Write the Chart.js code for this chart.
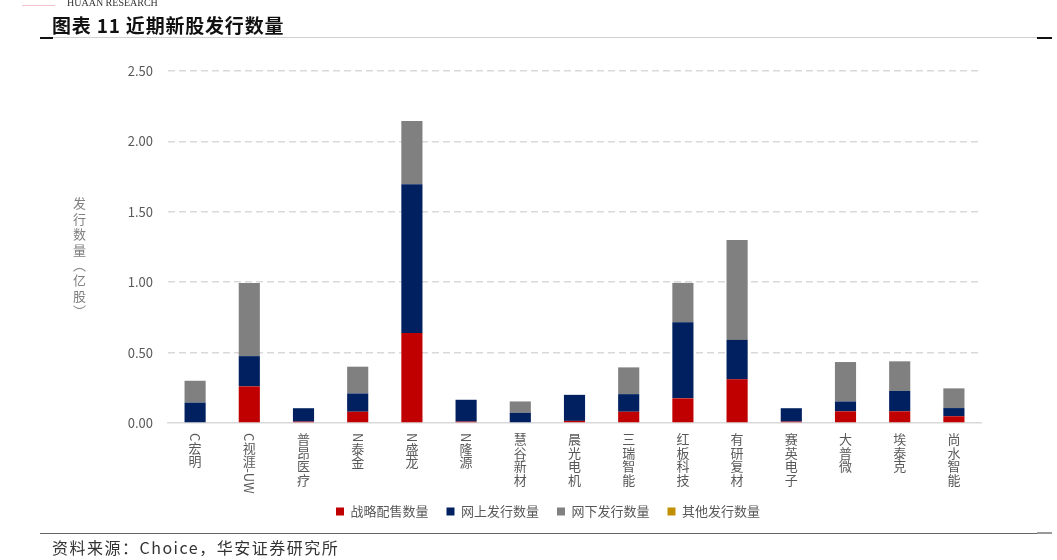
<!DOCTYPE html>
<html>
<head>
<meta charset="utf-8">
<script src="https://cdn.jsdelivr.net/npm/chart.js@4/dist/chart.umd.min.js"></script>
<style>
  body { margin: 0; background: #fff; }
  #page { position: relative; width: 1057px; height: 560px; overflow: hidden; font-family: "Noto Sans CJK SC", sans-serif; }
  #chartBox { position: absolute; left: 0; top: 0; width: 1057px; height: 560px; }
  .abs { position: absolute; white-space: nowrap; }
  #brand { left: 67px; top: -3px; font: 10px "Liberation Serif", serif; color: #333; }
  #pink { left: 22px; top: 5px; width: 33px; height: 1px; background: #f2c4cc; }
  #title { left: 52px; top: 12px; font-size: 19px; font-weight: 700; color: #111; letter-spacing: 0.8px; line-height: 26px; }
  #topLine { left: 40px; top: 37px; width: 997px; height: 1px; background: #d0d0d0; }
  #topMark { left: 1037px; top: 37px; width: 15px; height: 2px; background: #111; }
  #topMarkL { left: 40px; top: 37px; width: 13px; height: 2px; background: #111; }
  #botLine { left: 40px; top: 533px; width: 997px; height: 1px; background: #666; }
  #botMark { left: 1037px; top: 532px; width: 15px; height: 2px; background: #999; }
  #source { left: 52px; top: 535px; font-size: 16px; color: #333; letter-spacing: 1.5px; line-height: 24px; }
  #yTitle { left: 71px; top: 197px; writing-mode: vertical-rl; font-size: 13px; line-height: 16px; color: #7f7f7f; letter-spacing: 2.4px; }
</style>
</head>
<body>
<div id="page">
  <div id="chartBox"><canvas id="issueChart"></canvas></div>
  <div class="abs" id="pink"></div>
  <div class="abs" id="brand">HUAAN RESEARCH</div>
  <div class="abs" id="title">图表 11 近期新股发行数量</div>
  <div class="abs" id="topLine"></div>
  <div class="abs" id="topMarkL"></div>
  <div class="abs" id="topMark"></div>
  <div class="abs" id="yTitle">发行数量（亿股）</div>
  <div class="abs" id="botLine"></div>
  <div class="abs" id="botMark"></div>
  <div class="abs" id="source">资料来源：Choice，华安证券研究所</div>
</div>
<script>
// categories and values (亿股)
const categories = ['C宏明', 'C视涯-UW', '普昂医疗', 'N泰金', 'N盛龙', 'N隆源', '慧谷新材', '晨光电机',
  '三瑞智能', '红板科技', '有研复材', '赛英电子', '大普微', '埃泰克', '尚水智能'];
const strategic = [0.00, 0.26, 0.01, 0.08, 0.64, 0.01, 0.00, 0.015, 0.08, 0.175, 0.31, 0.01, 0.083, 0.083, 0.048];
const online = [0.145, 0.215, 0.095, 0.13, 1.055, 0.155, 0.073, 0.185, 0.125, 0.54, 0.28, 0.095, 0.07, 0.145, 0.058];
const offline = [0.155, 0.52, 0.00, 0.19, 0.45, 0.00, 0.08, 0.00, 0.19, 0.28, 0.71, 0.00, 0.28, 0.21, 0.14];
const other = [0, 0, 0, 0, 0, 0, 0, 0, 0, 0, 0, 0, 0, 0, 0];
const yTicks = [0, 0.5, 1.0, 1.5, 2.0, 2.5];

const FONT = '"Noto Sans CJK SC", sans-serif';
const isCJK = s => /[\u3400-\u9fff]/.test(s);

// x labels written top to bottom: CJK upright, latin runs turned clockwise
const verticalLabels = {
  id: 'verticalLabels',
  afterDraw(chart) {
    const { ctx, scales: { x } } = chart;
    ctx.save();
    ctx.fillStyle = '#595959';
    ctx.font = '13px ' + FONT;
    categories.forEach((label, i) => {
      const cx = x.getPixelForTick(i);
      let y = chart.chartArea.bottom + 10;
      const parts = label.match(/[\u3400-\u9fff]|[^\u3400-\u9fff]+/g);
      parts.forEach(p => {
        if (isCJK(p)) {
          ctx.textAlign = 'center';
          ctx.textBaseline = 'top';
          ctx.fillText(p, cx, y);
          y += 13.5;
        } else {
          const w = ctx.measureText(p).width;
          ctx.save();
          ctx.translate(cx, y);
          ctx.rotate(Math.PI / 2);
          ctx.textAlign = 'left';
          ctx.textBaseline = 'middle';
          ctx.fillText(p, 0, 0);
          ctx.restore();
          y += w;
        }
      });
    });
    ctx.restore();
  }
};

const ctx = document.getElementById('issueChart');

const myChart = new Chart(ctx, {
  type: 'bar',
  data: {
    labels: categories,
    datasets: [
      { label: '战略配售数量', data: strategic, backgroundColor: '#C00000' },
      { label: '网上发行数量', data: online, backgroundColor: '#002060' },
      { label: '网下发行数量', data: offline, backgroundColor: '#808080' },
      { label: '其他发行数量', data: other, backgroundColor: '#C09000' }
    ]
  },
  options: {
    responsive: true,
    maintainAspectRatio: false,
    animation: false,
    datasets: {
      bar: { categoryPercentage: 1, barPercentage: 0.39, borderWidth: 0 }
    },
    layout: {
      padding: { left: 39, right: 0, top: 71, bottom: 32 }
    },
    plugins: {
      legend: {
        position: 'bottom',
        labels: {
          boxWidth: 8,
          boxHeight: 8,
          padding: 18,
          color: '#595959',
          font: { family: FONT, size: 13 }
        }
      },
      tooltip: { enabled: false }
    },
    scales: {
      x: {
        stacked: true,
        ticks: { display: false },
        grid: { display: false, drawTicks: false },
        border: { display: true, color: '#d9d9d9', width: 1.5 },
        afterFit: s => { s.height = 64; }
      },
      y: {
        stacked: true,
        min: 0,
        max: 2.5,
        afterBuildTicks: s => { s.ticks = yTicks.map(v => ({ value: v })); },
        afterFit: s => { s.width = 129; },
        ticks: {
          padding: 15,
          color: '#595959',
          font: { family: FONT, size: 13 },
          callback: v => Number(v).toFixed(2)
        },
        grid: {
          drawTicks: false,
          color: c => (c.tick && c.tick.value === 0 ? 'rgba(0,0,0,0)' : '#d9d9d9'),
          lineWidth: 1.5
        },
        border: { display: false, dash: [7, 4] }
      },
      // empty right-hand axis that only keeps room on the right
      yRight: {
        position: 'right',
        display: true,
        ticks: { display: false },
        grid: { display: false, drawTicks: false },
        border: { display: false },
        afterFit: s => { s.width = 76; }
      }
    }
  },
  plugins: [verticalLabels]
});
</script>
</body>
</html>
